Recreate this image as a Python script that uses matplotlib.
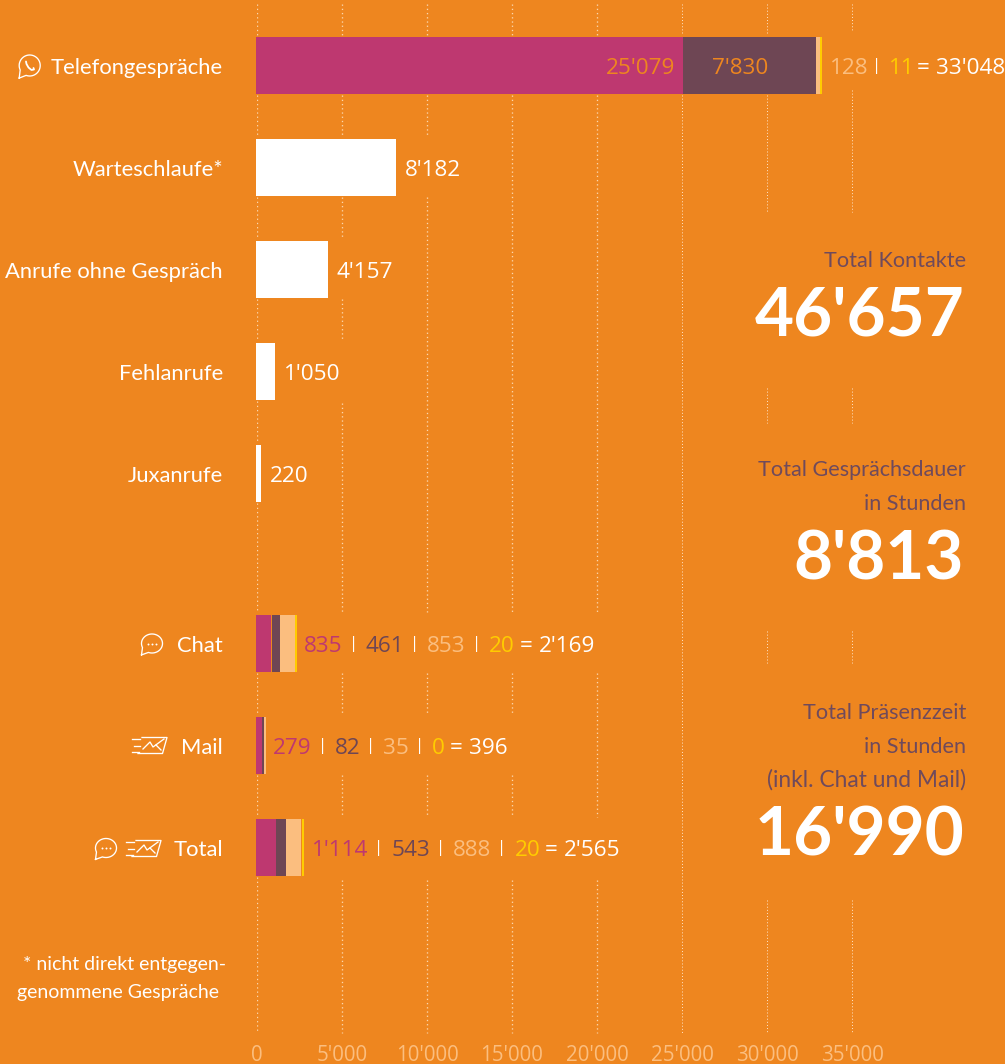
import numpy as np
import matplotlib
matplotlib.use('Agg')
import matplotlib.pyplot as plt

W, H = 1005, 1064

# data
cats = ['Telefongespräche', 'Warteschlaufe*', 'Anrufe ohne Gespräch', 'Fehlanrufe', 'Juxanrufe', 'Chat', 'Mail', 'Total']
white_vals = [8182, 4157, 1050, 220]
phone_vals = [25079, 7830, 128, 11]
chat_vals = [835, 461, 853, 20]
mail_vals = [279, 82, 35, 0]
total_vals = [1114, 543, 888, 20]
xticks = [0, 5000, 10000, 15000, 20000, 25000, 30000, 35000]
stat_titles = [['Total Kontakte'], ['Total Gesprächsdauer', 'in Stunden'], ['Total Präsenzzeit', 'in Stunden', '(inkl. Chat und Mail)']]
stat_vals = [46657, 8813, 16990]

# colours
BG = '#EE861F'
MAG = '#BE3870'
DARK = '#6E4654'
PEACH = '#FBBE7F'
YEL = '#FFCC00'
GRID = '#FBD7AE'
TXT = '#6F4A5C'

LABEL_FONT = 'Lato'
NUM_FONT = 'Open Sans'
PX = 0.017  # pixel per unit
row_y = [65.5, 167.5, 269.5, 371.5, 473.5, 643.5, 745.5, 847.5]
bar_h = 57


def fmt(v):
    return f'{v:,}'.replace(',', "'")


fig = plt.figure(figsize=(W / 100, H / 100), dpi=100, facecolor=BG)
# the axes starts at the zero line and stops above the tick labels
ax = fig.add_axes([257 / W, 1 - 1040 / H, (W - 257) / W, 1040 / H])
ax.patch.set_alpha(0)
ax.set_xlim(0, (W - 257) / PX)
ax.set_ylim(1040, 0)
for s in ax.spines.values():
    s.set_visible(False)
ax.set_xticks(xticks, ['0' if t == 0 else fmt(t) for t in xticks], color=PEACH, fontsize=14.8,
              fontfamily=NUM_FONT)
ax.tick_params(axis='x', length=0, pad=3.5)
ax.set_yticks(row_y, cats, color='white', fontsize=15.8, fontfamily=LABEL_FONT)
ax.tick_params(axis='y', length=0, pad=24.5)

# overlay in pixels for text and icons
ov = fig.add_axes([0, 0, 1, 1])
ov.patch.set_alpha(0)
ov.set_xlim(0, W)
ov.set_ylim(H, 0)
ov.axis('off')

# dotted grid, broken where bars and labels sit
grid_parts = {
    0: [(4, 35), (95, 137), (197, 239), (299, 341), (401, 443), (503, 612), (673, 715), (775, 817), (877, 1033)],
    5000: [(4, 35), (95, 137), (197, 239), (299, 340), (403, 612), (673, 715), (775, 817), (880, 1033)],
    10000: [(4, 35), (95, 137), (197, 612), (673, 715), (775, 817), (880, 1033)],
    15000: [(4, 35), (95, 612), (673, 715), (775, 817), (880, 1033)],
    20000: [(4, 35), (95, 612), (673, 817), (880, 1033)],
    25000: [(4, 35), (95, 1033)],
    30000: [(4, 35), (95, 212), (388, 423), (631, 663), (900, 1033)],
    35000: [(4, 30), (90, 212), (388, 423), (631, 663), (900, 1033)],
}
for t, parts in grid_parts.items():
    fine = t >= 25000
    for a, b in parts:
        ax.plot([t, t], [a, b], color='#FFE6CC' if fine else GRID, lw=0.7 if fine else 0.95,
                ls=(0, (1, 2.2)), zorder=1)

# bars begin one pixel left of the zero line
left0 = -1 / PX
for y, v in zip(row_y[1:5], white_vals):
    ax.barh(y, v - left0, left=left0, height=bar_h, color='white', zorder=2, clip_on=False)


def stack(y, vals, gap_px, peach_px):
    pos = left0
    cols = [MAG, DARK, PEACH, YEL]
    for i, v in enumerate(vals):
        if v == 0:
            continue
        w = v - left0 if i == 0 else v
        if i == 2:
            w = max(w, peach_px / PX)
        if i == 3:
            w = max(w, 2 / PX)
        ax.barh(y, w, left=pos, height=bar_h, color=cols[i], lw=0, zorder=2, clip_on=False)
        pos += w + gap_px / PX


stack(row_y[0], phone_vals, 0, 3.3)
stack(row_y[5], chat_vals, 0.6, 0)
stack(row_y[6], mail_vals, 0.6, 1.7)
stack(row_y[7], total_vals, 0.5, 0)

rend = fig.canvas.get_renderer()


def num(x, y, s, col, ha='left'):
    return ov.text(x, y, s, color=col, fontsize=16.2, fontfamily=NUM_FONT,
                   ha=ha, va='baseline')


def chain(x, y, vals, start=0, sep=23, eq=24):
    cols = [MAG, DARK, PEACH, YEL]
    for i in range(start, 4):
        t = num(x, y, fmt(vals[i]), cols[i])
        x = t.get_window_extent(rend).x1
        if i == 3:
            ov.text(x + eq - 19, y, '=', color='white', fontsize=16.2, fontfamily=NUM_FONT, va='baseline')
            x += eq
        else:
            ov.text(x + sep - 17, y - 4, '|', color='white', fontsize=12, fontfamily=NUM_FONT, va='baseline')
            x += sep
    num(x, y, fmt(sum(vals)), 'white')


# value labels
num(675, 74, fmt(phone_vals[0]), BG, ha='right')
num(712, 74, fmt(phone_vals[1]), BG)
chain(830, 74, phone_vals, start=2, sep=20, eq=22)
for y, v in zip(row_y[1:5], white_vals):
    num(257 + v * PX + 9, y + 8.5, fmt(v), 'white')
chain(304, 652, chat_vals)
chain(273, 754, mail_vals)
chain(312, 856, total_vals)

# footnote
lab = dict(color='white', fontsize=14, fontfamily=LABEL_FONT, va='baseline')
ov.text(23, 970, '* nicht direkt entgegen-', **lab)
ov.text(17, 998, 'genommene Gespräche', **lab)

# totals on the right
title_y = [[267], [476, 510], [719, 753, 787]]
big_y = [336, 579, 855]
for titles, ys, v, by in zip(stat_titles, title_y, stat_vals, big_y):
    for s, yy in zip(titles, ys):
        ov.text(966, yy, s, color=TXT, fontsize=16.4 if s.startswith('(') else 15.6, fontfamily=LABEL_FONT,
                ha='right', va='baseline')
    ov.text(964, by, fmt(v), color='white', fontsize=48.5, fontfamily=LABEL_FONT, fontweight='bold',
            ha='right', va='baseline')


# icons
def bubble(cx, cy, rx, ry, dots=True):
    th = np.radians(np.linspace(250, 565, 80))
    tip_x, tip_y = cx - rx * 1.0, cy + ry * 1.2
    xs = np.r_[tip_x, cx + rx * np.cos(th), tip_x]
    ys = np.r_[tip_y, cy - ry * np.sin(th), tip_y]
    ov.plot(xs, ys, color='white', lw=0.95, solid_joinstyle='round')
    if dots:
        ov.plot([cx - 4.2, cx, cx + 4.2], [cy, cy, cy], ls='none', marker='o', ms=1.4, mew=0, color='white')


def mail(x, y):
    # speed lines
    for x0, x1, yy in [(0, 8, 2), (2, 8, 8.5), (0, 6.5, 15)]:
        ov.plot([x + x0, x + x1], [y + yy, y + yy], color='white', lw=0.95)
    # envelope
    ov.plot([x + 10, x + 35, x + 30.5, x + 6], [y + 0.5, y + 0.5, y + 16.5, y + 16.5], color='white', lw=0.95)
    ov.plot([x + 11, x + 18, x + 21, x + 32], [y + 12, y + 5, y + 10, y + 2], color='white', lw=0.95)
    ov.plot([x + 24, x + 29], [y + 8, y + 13], color='white', lw=0.95)


bubble(29.7, 65.5, 10.5, 10.5, dots=False)
ov.plot([26, 26.5, 28.5, 31.5, 34, 33.5], [61.5, 64, 67.5, 70, 69.5, 68], color='white', lw=1.3, solid_capstyle='round')
bubble(152, 643.5, 10.5, 9.5)
mail(132, 737)
bubble(106, 848, 10.5, 9.5)
mail(126, 840)

fig.savefig('out.png', dpi=100, facecolor=BG)
